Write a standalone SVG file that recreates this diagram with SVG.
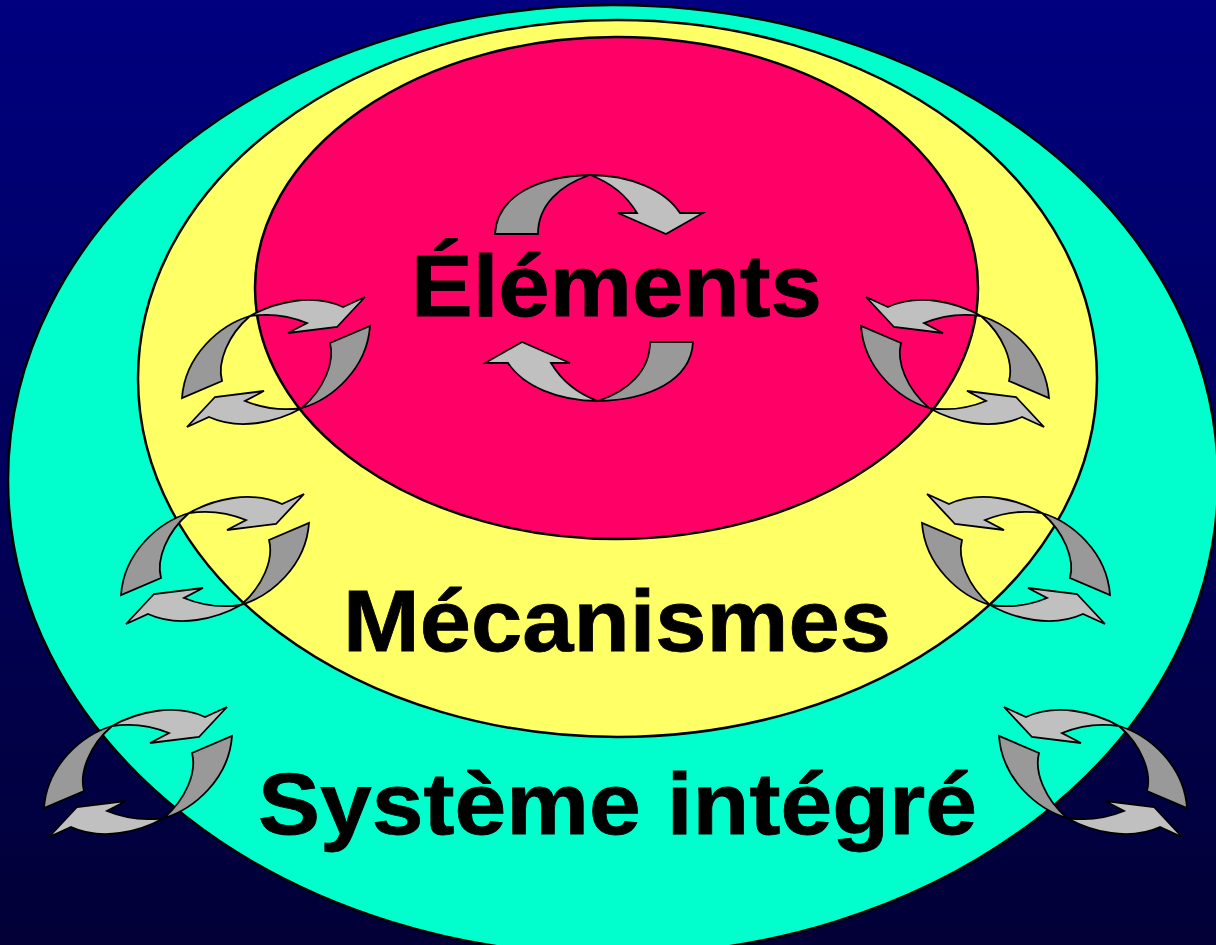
<svg xmlns="http://www.w3.org/2000/svg" xmlns:xlink="http://www.w3.org/1999/xlink" width="1216" height="945" viewBox="0 0 1216 945">
  <defs>
    <linearGradient id="bg" x1="0" y1="0" x2="0" y2="1">
      <stop offset="0" stop-color="#000080"/>
      <stop offset="1" stop-color="#020036"/>
    </linearGradient>
    <style>
      .ring { stroke: #000; stroke-width: 2.5; }
      .dark { fill: #999999; stroke: #000; stroke-width: 1.8; stroke-linejoin: miter; }
      .light { fill: #C0C0C0; stroke: #000; stroke-width: 1.8; stroke-linejoin: miter; }
      .label { font-family: "Liberation Sans", Arial, sans-serif; font-weight: bold; font-size: 87px; fill: #000; stroke: #000; stroke-width: 0.8; text-anchor: middle; }
    </style>
    <g id="topArrow">
      <path class="dark" d="M590,175 C540,176 497,195 495,234 L538,234 C538,205 560,185 590,175 Z"/>
      <path class="light" d="M590,175 C630,175 665,190 680,213 L703,213 L666,234 L618,213 L637,213 C628,198 612,183 590,175 Z"/>
    </g>
    <g id="topPair">
      <use xlink:href="#topArrow"/>
      <use xlink:href="#topArrow" transform="rotate(180 594 288)"/>
    </g>
    <g id="sideArrow">
      <path class="dark" d="M250,316 C220,325 185,355 182,398 L222,381 C217,362 228,335 250,316 Z"/>
      <path class="light" d="M250,316 C275,302 312,293 343,307 L365,297 L337,327 L288,333 L307,323 C290,316 270,313 250,316 Z"/>
    </g>
    <g id="sidePair">
      <use xlink:href="#sideArrow"/>
      <use xlink:href="#sideArrow" transform="rotate(180 276 362)"/>
    </g>
  </defs>

  <rect x="0" y="0" width="1216" height="945" fill="url(#bg)"/>

  <g id="systeme">
    <ellipse class="ring" cx="613" cy="480" rx="605" ry="475" fill="#00FFCC"/>
  </g>
  <g id="mecanismes">
    <ellipse class="ring" cx="617.5" cy="378.5" rx="479.5" ry="358.5" fill="#FFFF66"/>
  </g>
  <g id="elements">
    <ellipse class="ring" cx="616.5" cy="288" rx="361.5" ry="251" fill="#FF0066"/>
  </g>

  <g id="labels">
    <text class="label" x="616.5" y="316" textLength="411" lengthAdjust="spacingAndGlyphs">Éléments</text>
    <text class="label" x="617" y="651" textLength="548" lengthAdjust="spacingAndGlyphs">Mécanismes</text>
    <text class="label" x="617.5" y="834" textLength="719" lengthAdjust="spacingAndGlyphs">Système intégré</text>
  </g>

  <g id="connectors">
    <use id="cycle-top" xlink:href="#topPair"/>
    <use id="cycle-left-1" xlink:href="#sidePair"/>
    <use id="cycle-left-2" xlink:href="#sidePair" transform="translate(-61,197)"/>
    <use id="cycle-left-3" xlink:href="#sidePair" transform="translate(-138,410)"/>
    <use id="cycle-right-1" xlink:href="#sidePair" transform="translate(1231,0) scale(-1,1)"/>
    <use id="cycle-right-2" xlink:href="#sidePair" transform="translate(1231,197) scale(-1,1) translate(-61,0)"/>
    <use id="cycle-right-3" xlink:href="#sidePair" transform="translate(1231,410) scale(-1,1) translate(-138,0)"/>
  </g>
</svg>
